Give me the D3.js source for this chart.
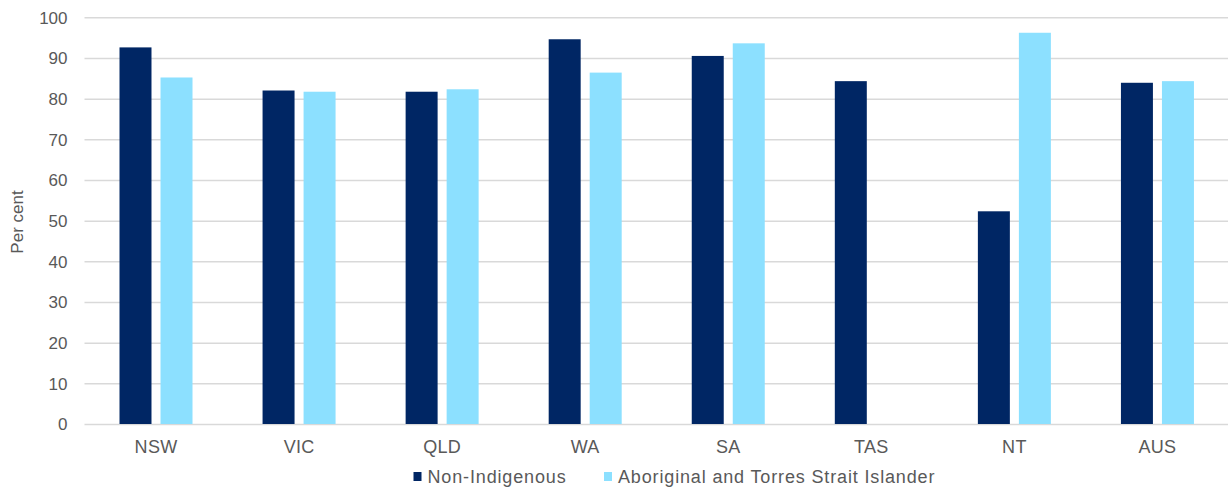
<!DOCTYPE html>
<html><head><meta charset="utf-8">
<script src="https://cdn.jsdelivr.net/npm/d3@7"></script>
<style>body{margin:0;background:#fff}svg{display:block}text{font-family:"Liberation Sans",Arial,sans-serif;fill:#595959}</style>
</head><body>
<script>
const categories = ["NSW","VIC","QLD","WA","SA","TAS","NT","AUS"];
const seriesNames = ["Non-Indigenous","Aboriginal and Torres Strait Islander"];
const nonIndigenous = [92.6,82.0,81.7,94.6,90.5,84.3,52.3,83.9];
const aboriginal = [85.2,81.7,82.3,86.4,93.6,null,96.2,84.3];
const yTicks = [0,10,20,30,40,50,60,70,80,90,100];
const colors = ["#002664","#8ce0ff"];

const W=1228,H=489;
const svg=d3.select("body").append("svg").attr("width",W).attr("height",H);
const x0=d3.scaleBand().domain(categories).range([84.5,1229]);
const x1=d3.scaleBand().domain(seriesNames).range([35,108]).paddingInner(0.22);
const y=d3.scaleLinear().domain([0,100]).range([424,17.3]);

const yAxis=svg.append("g").attr("transform","translate(84.5,0)")
  .call(d3.axisLeft(y).tickValues(yTicks).tickSize(-(W-84.5)).tickFormat(d3.format("d")));
yAxis.select(".domain").remove();
yAxis.selectAll(".tick line").attr("stroke","#d9d9d9").attr("stroke-width",1.5);
yAxis.selectAll(".tick text").attr("x",-17).attr("dy","0.35em").style("font-size","17px");

const data=[nonIndigenous,aboriginal];
const g=svg.append("g");
categories.forEach((c,i)=>{
  seriesNames.forEach((s,j)=>{
    const v=data[j][i];
    if(v==null) return;
    g.append("rect").attr("x",x0(c)+x1(s)).attr("width",x1.bandwidth())
      .attr("y",y(v)).attr("height",y(0)-y(v)).attr("fill",colors[j]);
  });
});

const xAxis=svg.append("g").attr("transform","translate(0,424)")
  .call(d3.axisBottom(x0).tickSize(0));
xAxis.select(".domain").remove();
xAxis.selectAll(".tick text").attr("y",16).attr("dy","0.71em").style("font-size","18px").style("letter-spacing","0.3px");

svg.append("text").attr("transform","translate(23,222) rotate(-90)")
  .attr("text-anchor","middle").style("font-size","17px").text("Per cent");

const legX=[413.5,604];
seriesNames.forEach((s,j)=>{
  svg.append("rect").attr("x",legX[j]).attr("y",472).attr("width",8).attr("height",9).attr("fill",colors[j]);
  svg.append("text").attr("x",legX[j]+14).attr("y",477).attr("dy","0.35em")
    .style("font-size","18px").style("letter-spacing","0.85px").text(s);
});
</script>
</body></html>
